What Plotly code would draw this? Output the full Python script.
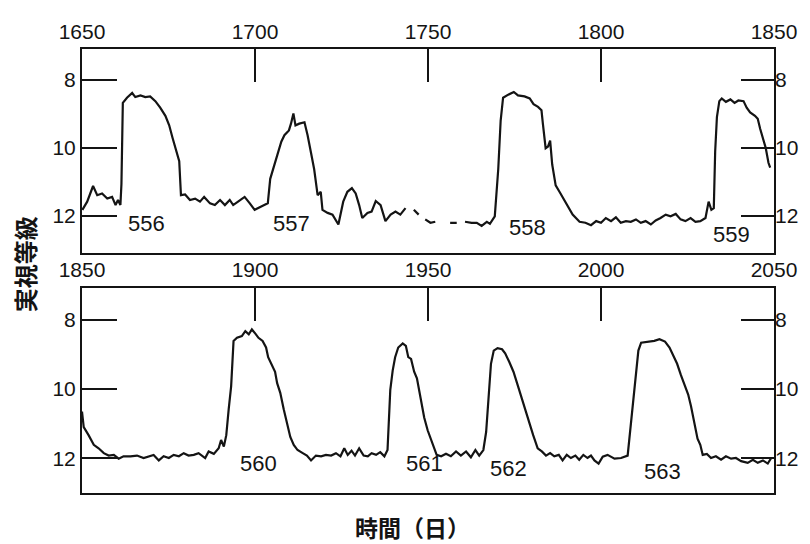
import plotly.graph_objects as go

# ---- data: top panel (days 1650-1850) ----
days_top = [1650.1, 1651.5, 1653.2, 1654.4, 1655.8, 1657.3, 1658.7, 1659.7, 1660.4, 1661.1,
            1661.4, 1661.8, 1663.0, 1664.5, 1665.4, 1666.9, 1668.3, 1669.7, 1671.2, 1672.6,
            1674.1, 1675.2, 1676.2, 1677.2, 1678.1, 1678.6, 1679.8, 1681.2, 1682.7, 1684.1,
            1685.3, 1687.0, 1688.4, 1689.9, 1691.3, 1692.7, 1693.7, 1695.1, 1697.0, 1698.5,
            1699.9, 1701.8, 1703.7, 1704.4, 1706.1, 1707.6, 1708.5, 1709.8, 1710.4, 1711.1,
            1711.7, 1712.8, 1714.3, 1715.2, 1716.2, 1717.1, 1718.1, 1719.0, 1719.5, 1721.0,
            1722.4, 1724.1, 1725.5, 1726.7, 1728.0, 1729.1, 1730.1, 1731.0, 1732.5, 1733.7,
            1734.9, 1736.3, 1737.7, 1739.2, 1740.6, 1742.0, 1743.5, None, 1745.9, 1747.3,
            None, 1749.2, 1750.7, 1752.1, None, 1756.4, 1758.3, None, 1760.7, 1762.6,
            1764.1, 1765.5, 1767.0, 1767.9, 1769.3, 1770.3, 1771.0, 1771.7, 1773.2, 1774.8,
            1776.0, 1777.9, 1779.4, 1780.5, 1781.8, 1782.8, 1783.2, 1784.0, 1784.7, 1785.3,
            1785.9, 1786.9, 1788.0, 1789.9, 1791.8, 1793.8, 1795.5, 1797.1, 1798.6, 1800.0,
            1801.4, 1802.9, 1804.3, 1805.7, 1807.2, 1808.6, 1810.1, 1811.5, 1812.9, 1814.4,
            1815.8, 1817.2, 1818.7, 1820.1, 1821.6, 1823.0, 1824.4, 1825.9, 1827.3, 1828.7,
            1830.2, 1831.1, 1831.9, 1832.6, 1833.0, 1833.5, 1834.2, 1834.9, 1836.1, 1837.4,
            1838.6, 1839.7, 1841.2, 1842.1, 1843.1, 1844.5, 1845.3, 1846.0, 1846.9, 1847.6,
            1848.4, 1848.9]
mag_top = [11.82, 11.58, 11.12, 11.39, 11.34, 11.49, 11.44, 11.68, 11.53, 11.68,
           11.06, 8.68, 8.53, 8.39, 8.51, 8.46, 8.51, 8.49, 8.63, 8.82,
           9.06, 9.34, 9.72, 10.06, 10.39, 11.39, 11.37, 11.53, 11.49, 11.58,
           11.44, 11.63, 11.68, 11.53, 11.68, 11.53, 11.68, 11.58, 11.44, 11.63,
           11.82, 11.72, 11.63, 10.91, 10.34, 9.82, 9.63, 9.49, 9.29, 8.99,
           9.34, 9.29, 9.25, 9.63, 10.15, 10.63, 11.39, 11.29, 11.82, 11.91,
           11.96, 12.25, 11.58, 11.29, 11.18, 11.34, 11.68, 12.06, 11.91, 11.87,
           11.56, 11.68, 12.15, 11.96, 11.87, 11.96, 11.77, None, 11.82, 11.96,
           None, 12.10, 12.20, 12.17, None, 12.20, 12.20, None, 12.17, 12.20,
           12.20, 12.29, 12.17, 12.23, 12.01, 10.63, 9.20, 8.53, 8.44, 8.36,
           8.46, 8.49, 8.55, 8.72, 8.80, 8.90, 9.29, 10.01, 9.96, 9.79,
           10.49, 11.10, 11.29, 11.63, 11.96, 12.17, 12.20, 12.27, 12.15, 12.20,
           12.06, 12.15, 12.04, 12.20, 12.15, 12.17, 12.10, 12.20, 12.15, 12.25,
           12.13, 12.06, 11.96, 12.01, 11.94, 12.10, 12.15, 12.06, 12.17, 12.15,
           12.06, 11.58, 11.82, 11.77, 10.10, 9.10, 8.63, 8.55, 8.65, 8.58,
           8.68, 8.61, 8.63, 8.82, 8.96, 9.06, 9.15, 9.44, 9.77, 10.00,
           10.44, 10.58]

# ---- data: bottom panel (days 1850-2050) ----
days_bot = [1850.0, 1850.5, 1851.9, 1853.4, 1854.8, 1856.3, 1857.7, 1859.2, 1860.6, 1862.0,
            1864.0, 1865.9, 1867.8, 1869.3, 1870.7, 1872.2, 1873.6, 1875.1, 1876.5, 1878.0,
            1879.4, 1880.8, 1882.3, 1883.7, 1885.6, 1886.6, 1888.1, 1889.5, 1890.2, 1891.0,
            1891.7, 1892.4, 1893.1, 1893.8, 1894.8, 1896.2, 1897.2, 1898.2, 1899.1, 1900.1,
            1901.0, 1902.2, 1903.2, 1903.8, 1904.8, 1905.8, 1906.4, 1907.3, 1908.3, 1909.2,
            1910.2, 1911.2, 1912.3, 1913.8, 1915.0, 1916.2, 1917.6, 1919.1, 1920.5, 1922.0,
            1923.4, 1924.7, 1925.8, 1926.8, 1927.9, 1928.9, 1930.1, 1931.4, 1932.6, 1933.7,
            1935.0, 1936.2, 1937.4, 1938.3, 1939.1, 1939.8, 1940.5, 1941.4, 1942.7, 1943.6,
            1944.3, 1945.1, 1946.0, 1946.8, 1948.0, 1948.9, 1949.9, 1950.9, 1951.4, 1952.5,
            1953.8, 1955.2, 1956.6, 1958.1, 1959.5, 1961.0, 1962.4, 1963.7, 1964.8, 1966.0,
            1966.8, 1967.5, 1968.2, 1969.0, 1970.1, 1971.4, 1972.3, 1973.5, 1974.7, 1975.9,
            1977.2, 1978.3, 1979.5, 1980.4, 1981.7, 1982.9, 1984.1, 1985.3, 1986.5, 1987.8,
            1988.9, 1990.1, 1991.3, 1992.6, 1993.7, 1994.9, 1996.1, 1997.1, 1998.1, 1999.3,
            2000.5, 2001.9, 2003.9, 2005.8, 2007.7, 2008.5, 2009.2, 2010.1, 2010.8, 2011.6,
            2013.5, 2015.4, 2016.9, 2018.5, 2019.8, 2020.7, 2022.0, 2023.1, 2024.3, 2025.2,
            2026.0, 2027.0, 2027.9, 2028.7, 2029.4, 2030.6, 2031.8, 2033.2, 2034.7, 2036.1,
            2037.6, 2039.0, 2040.5, 2042.4, 2043.9, 2045.3, 2046.8, 2048.2, 2049.2]
mag_bot = [10.65, 11.10, 11.33, 11.61, 11.71, 11.85, 11.92, 11.90, 12.01, 11.94,
           11.94, 11.92, 11.99, 11.94, 11.90, 12.06, 11.94, 11.99, 11.90, 11.94,
           11.85, 11.92, 11.90, 11.85, 11.99, 11.80, 11.87, 11.71, 11.47, 11.66,
           11.33, 10.58, 9.92, 8.61, 8.52, 8.47, 8.33, 8.42, 8.28, 8.40,
           8.52, 8.61, 8.80, 9.08, 9.27, 9.50, 9.83, 10.11, 10.58, 10.96,
           11.38, 11.61, 11.76, 11.85, 11.92, 12.06, 11.92, 11.94, 11.90, 11.92,
           11.85, 11.94, 11.71, 11.90, 11.78, 11.92, 11.71, 11.92, 11.94, 11.85,
           11.90, 11.82, 11.94, 11.76, 10.02, 9.46, 9.08, 8.80, 8.68, 8.75,
           9.08, 9.13, 9.50, 9.69, 10.35, 10.82, 11.19, 11.45, 11.61, 11.90,
           11.94, 11.87, 11.94, 11.80, 11.92, 11.80, 11.97, 11.76, 11.92, 11.76,
           11.24, 10.11, 9.27, 8.89, 8.82, 8.85, 8.97, 9.22, 9.50, 9.88,
           10.30, 10.68, 11.10, 11.33, 11.71, 11.80, 11.92, 11.85, 11.94, 11.90,
           12.06, 11.90, 11.99, 11.92, 12.04, 11.90, 11.99, 11.92, 12.06, 12.15,
           11.95, 11.90, 12.01, 11.99, 11.92, 11.15, 10.30, 9.46, 8.89, 8.66,
           8.63, 8.61, 8.56, 8.63, 8.80, 8.99, 9.27, 9.60, 9.92, 10.16,
           10.49, 10.96, 11.43, 11.61, 11.90, 11.87, 11.99, 11.94, 12.04, 11.94,
           12.01, 11.99, 12.08, 12.13, 12.04, 12.13, 12.06, 12.15, 11.99]

top_ticks = [1650, 1700, 1750, 1800, 1850]
bot_ticks = [1850, 1900, 1950, 2000, 2050]
mag_ticks = [8, 10, 12]

outburst_labels = ["556", "557", "558", "559", "560", "561", "562", "563"]
label_days = [1668.7, 1710.6, 1778.7, 1837.6, 1901.0, 1949.0, 1973.4, 2017.9]
label_mags = [12.23, 12.23, 12.34, 12.54, 12.14, 12.15, 12.28, 12.37]
label_panel = [1, 1, 1, 1, 2, 2, 2, 2]

INK = "#141414"
NUMFONT = dict(family="Liberation Sans, Arial, sans-serif", size=21, color=INK)
CJK = "Noto Sans CJK JP, Noto Sans CJK SC, sans-serif"

fig = go.Figure()
fig.add_trace(go.Scatter(x=days_top, y=mag_top, xaxis="x", yaxis="y", mode="lines",
                         line=dict(color=INK, width=2.2), connectgaps=False, showlegend=False))
fig.add_trace(go.Scatter(x=days_bot, y=mag_bot, xaxis="x2", yaxis="y2", mode="lines",
                         line=dict(color=INK, width=2.2), connectgaps=False, showlegend=False))
# invisible traces so the right-hand magnitude axes are drawn
fig.add_trace(go.Scatter(x=top_ticks[:2], y=mag_ticks[:2], xaxis="x", yaxis="y3", mode="lines",
                         opacity=0, hoverinfo="skip", showlegend=False))
fig.add_trace(go.Scatter(x=bot_ticks[:2], y=mag_ticks[:2], xaxis="x2", yaxis="y4", mode="lines",
                         opacity=0, hoverinfo="skip", showlegend=False))

def xax(rng, ticks, anchor):
    return dict(domain=[0, 1], anchor=anchor, side="top", range=rng, tickvals=ticks,
                ticktext=[str(t) for t in ticks], ticks="inside", ticklen=33, tickwidth=2,
                tickcolor=INK, showline=True, linewidth=2, linecolor=INK, mirror=True,
                showgrid=False, zeroline=False, tickfont=NUMFONT, fixedrange=True)

def yax(rng, dom, anchor, side="left", overlay=None, ticklen=35):
    d = dict(range=rng, tickvals=mag_ticks, ticktext=[str(t) for t in mag_ticks],
             ticks="inside", ticklen=ticklen, tickwidth=2, tickcolor=INK, side=side,
             anchor=anchor, showgrid=False, zeroline=False, tickfont=NUMFONT)
    if overlay:
        d.update(overlaying=overlay, showline=False)
    else:
        d.update(domain=dom, showline=True, linewidth=2, linecolor=INK, mirror=True)
    return d

top_dom = [0.5395, 1.0]
bot_dom = [0.0, 0.4627]
fig.update_layout(
    width=802, height=536,
    margin=dict(l=74, r=34, t=29, b=51),
    paper_bgcolor="white", plot_bgcolor="white",
    xaxis=xax([1650, 1850], top_ticks, "y"),
    yaxis=yax([13.1, 7.1], top_dom, "x"),
    yaxis3=yax([13.1, 7.1], None, "x", side="right", overlay="y", ticklen=33),
    xaxis2=xax([1850, 2050], bot_ticks, "y2"),
    yaxis2=yax([13.0, 7.07], bot_dom, "x2"),
    yaxis4=yax([13.0, 7.07], None, "x2", side="right", overlay="y2", ticklen=33),
)

anns = []
for t, dx, my, p in zip(outburst_labels, label_days, label_mags, label_panel):
    anns.append(dict(x=dx, y=my, xref="x" if p == 1 else "x2", yref="y" if p == 1 else "y2",
                     text=t, showarrow=False, xanchor="center", yanchor="middle",
                     font=dict(family=NUMFONT["family"], size=22, color=INK)))
anns.append(dict(x=-0.084, y=0.515, xref="paper", yref="paper", text="<b>実視等級</b>", textangle=-90,
                 showarrow=False, xanchor="center", yanchor="middle",
                 font=dict(family=CJK, size=24, color=INK)))
anns.append(dict(x=0.478, y=-0.077, xref="paper", yref="paper", text="<b>時間（日）</b>",
                 showarrow=False, xanchor="center", yanchor="middle",
                 font=dict(family=CJK, size=23, color=INK)))
fig.update_layout(annotations=anns)

fig.write_html("out.html")
